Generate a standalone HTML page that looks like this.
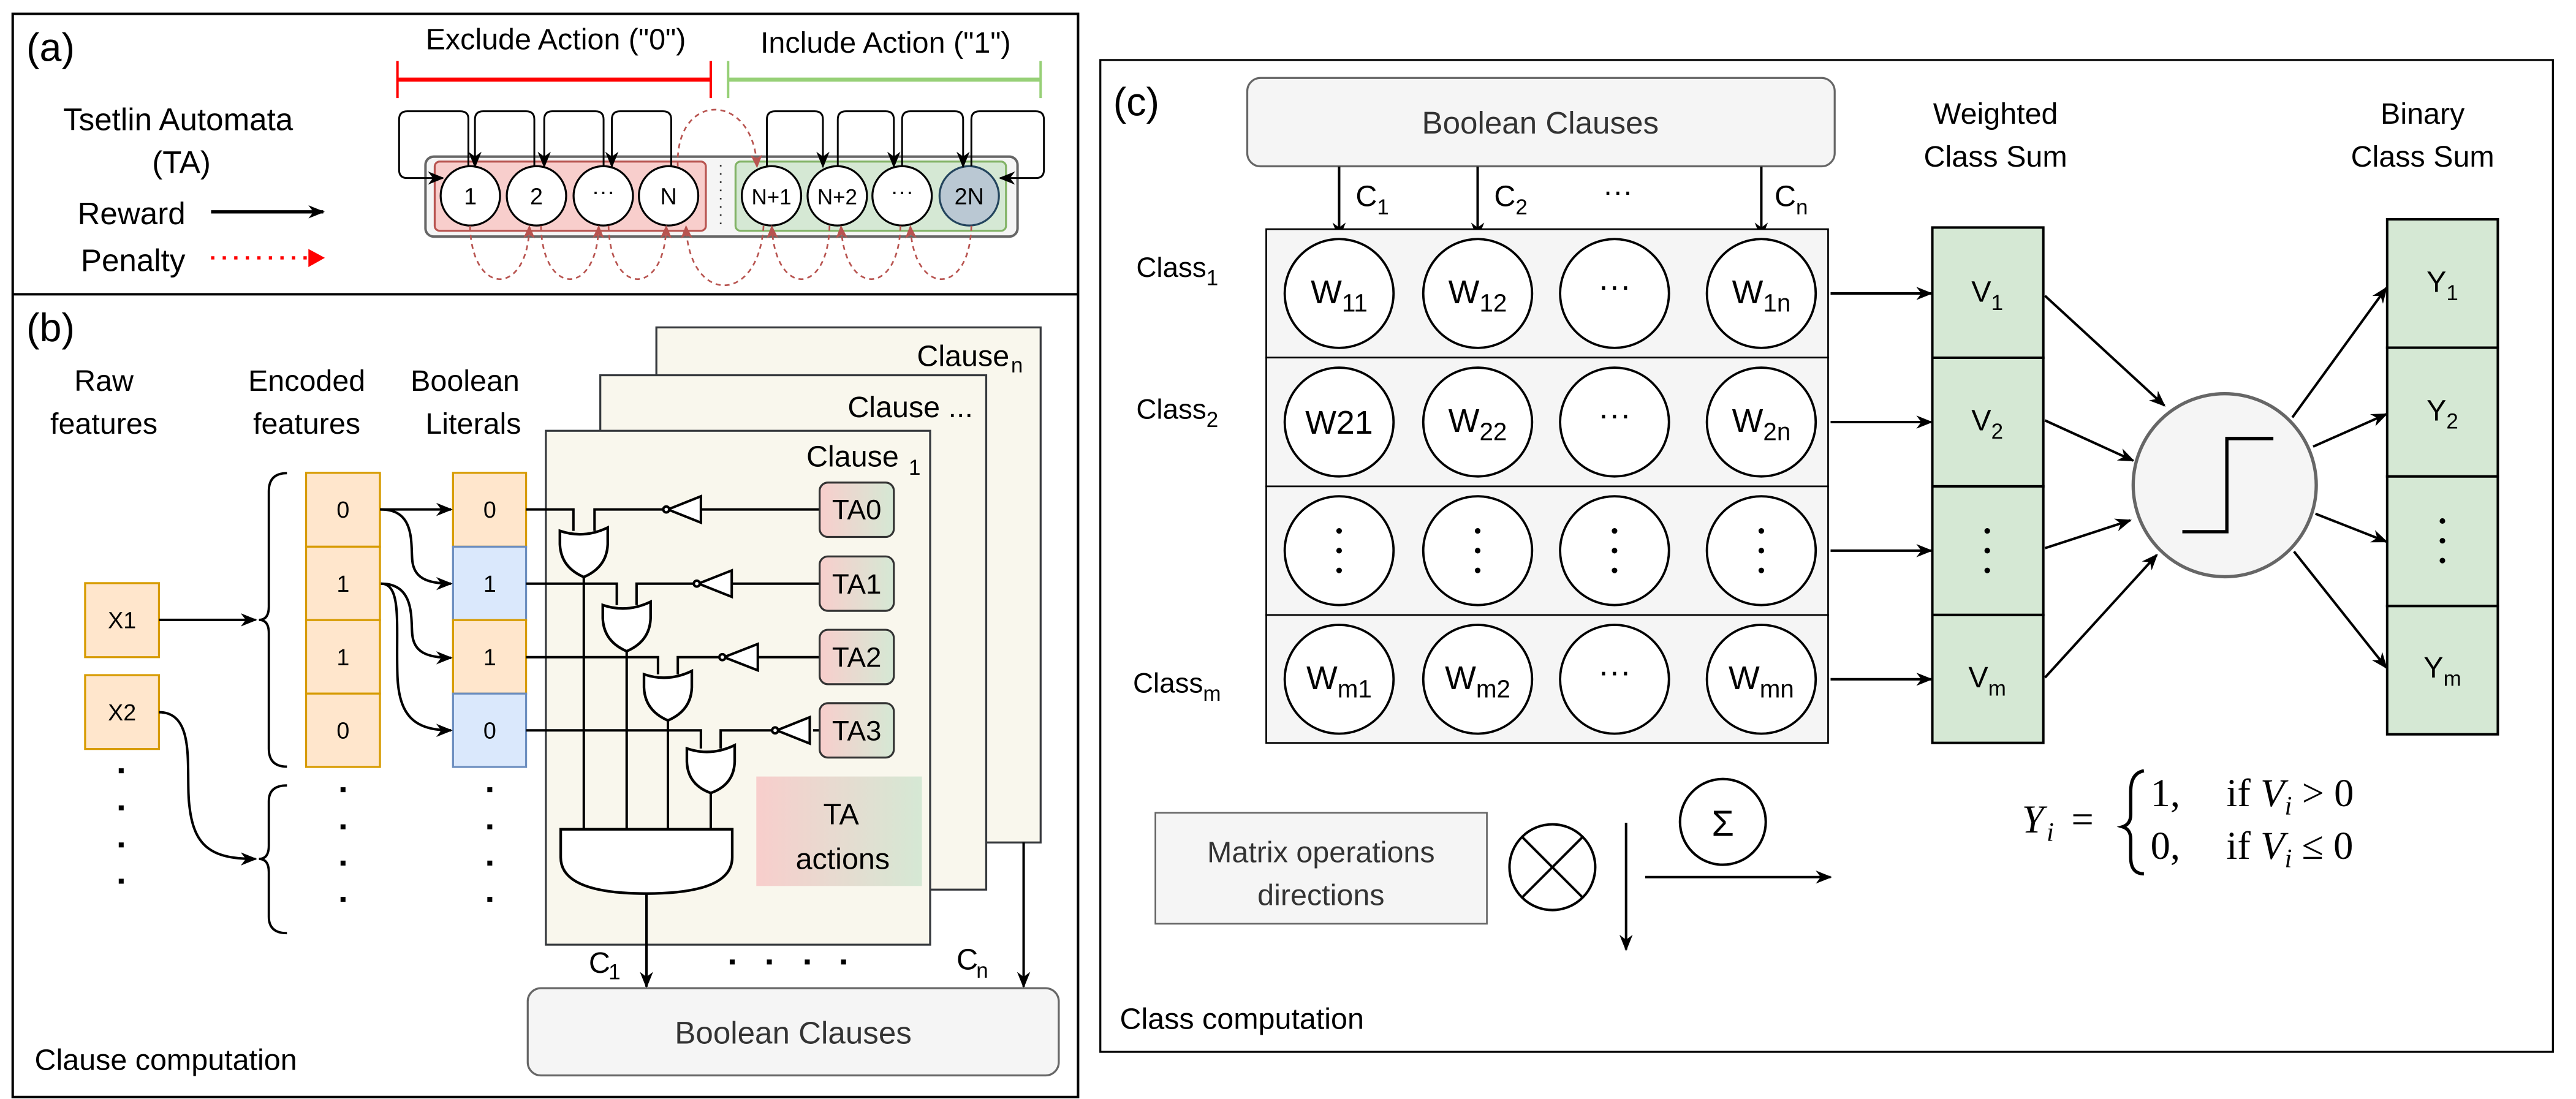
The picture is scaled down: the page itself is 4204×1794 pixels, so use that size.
<!DOCTYPE html>
<html><head><meta charset="utf-8"><style>
html,body{margin:0;padding:0;background:#fff;}
svg{display:block;}
text{font-family:"Liberation Sans",sans-serif;}
.serif text{font-family:"Liberation Serif",serif;}
</style></head><body>
<svg width="4204" height="1794" viewBox="0 0 1562 666.6" preserveAspectRatio="none" xmlns="http://www.w3.org/2000/svg">
<defs>
<marker id="ah" markerWidth="10" markerHeight="10" refX="9" refY="5" orient="auto" markerUnits="userSpaceOnUse"><path d="M0,1 L10,5 L0,9 L3,5 Z" fill="#000"/></marker>
<marker id="ahr" markerWidth="8" markerHeight="8" refX="7" refY="4" orient="auto" markerUnits="userSpaceOnUse"><path d="M0,0.5 L8,4 L0,7.5 L2,4 Z" fill="#b85450"/></marker>
<linearGradient id="ta" x1="0" y1="0" x2="1" y2="0"><stop offset="0" stop-color="#f8cecc"/><stop offset="1" stop-color="#d5e8d4"/></linearGradient>
</defs>
<rect width="1562" height="666.6" fill="#fff"/>

<rect x="7.7" y="8.4" width="646" height="657" fill="none" stroke="#000" stroke-width="1.5"/>
<line x1="7.7" y1="178.5" x2="653.7" y2="178.5" stroke="#000" stroke-width="1.5"/>
<rect x="667.2" y="36.4" width="880.8" height="601.6" fill="none" stroke="#000" stroke-width="1.2"/>

<!-- ===== Panel a ===== -->
<text x="16" y="37" font-size="24">(a)</text>
<text x="337" y="30" font-size="18" text-anchor="middle">Exclude Action ("0")</text>
<text x="537" y="32" font-size="18" text-anchor="middle">Include Action ("1")</text>
<g stroke="#ff0000" stroke-width="1.5"><line x1="241" y1="48.3" x2="431" y2="48.3" stroke-width="2.5"/><line x1="241" y1="37" x2="241" y2="59.5"/><line x1="431" y1="37" x2="431" y2="59.5"/></g>
<g stroke="#97d077" stroke-width="1.5"><line x1="441.5" y1="48.3" x2="631" y2="48.3" stroke-width="2.5"/><line x1="441.5" y1="37" x2="441.5" y2="59.5"/><line x1="631" y1="37" x2="631" y2="59.5"/></g>
<text x="108" y="79" font-size="19" text-anchor="middle">Tsetlin Automata</text>
<text x="110" y="105" font-size="19" text-anchor="middle">(TA)</text>
<text x="47" y="136" font-size="19">Reward</text>
<line x1="128" y1="128.5" x2="196" y2="128.5" stroke="#000" stroke-width="2" marker-end="url(#ah)"/>
<text x="49" y="164.5" font-size="19">Penalty</text>
<line x1="128" y1="156.4" x2="188" y2="156.4" stroke="#ff0000" stroke-width="2" stroke-dasharray="2 5"/>
<path d="M187,151 L197,156.4 L187,162 Z" fill="#ff0000"/>

<rect x="258" y="95" width="359" height="48.5" rx="5" fill="#f5f5f5" stroke="#666" stroke-width="1.5"/>
<rect x="263.6" y="98" width="164.4" height="42" rx="3" fill="#f8cecc" stroke="#b85450" stroke-width="1.2"/>
<rect x="446" y="98" width="164" height="42" rx="3" fill="#d5e8d4" stroke="#82b366" stroke-width="1.2"/>
<line x1="437" y1="100" x2="437" y2="140" stroke="#333" stroke-width="1" stroke-dasharray="1 4"/>
<g stroke="#000" stroke-width="1.2" fill="#fff">
<circle cx="285.2" cy="118.8" r="18"/><circle cx="325.3" cy="118.8" r="18"/><circle cx="365.8" cy="118.8" r="18"/><circle cx="405.4" cy="118.8" r="18"/>
<circle cx="467.8" cy="118.8" r="18"/><circle cx="507.7" cy="118.8" r="18"/><circle cx="547" cy="118.8" r="18"/>
</g>
<circle cx="587.7" cy="118.8" r="18" fill="#bac8d3" stroke="#23445d" stroke-width="1.2"/>
<g font-size="14" text-anchor="middle">
<text x="285.2" y="124">1</text><text x="325.3" y="124">2</text><text x="365.8" y="121">···</text><text x="405.4" y="124">N</text>
<text x="467.8" y="124" font-size="13">N+1</text><text x="507.7" y="124" font-size="13">N+2</text><text x="547" y="121">···</text><text x="587.7" y="124">2N</text>
</g>
<g fill="none" stroke="#000" stroke-width="1.1" marker-end="url(#ah)">
<path d="M284,100.8 V72 Q284,67.5 279,67.5 H247 Q242,67.5 242,72.5 V103 Q242,108 247,108 H268.5"/>
<path d="M324,100.8 V72.5 Q324,67.5 319,67.5 H293 Q288,67.5 288,72.5 V101"/>
<path d="M366,100.8 V72.5 Q366,67.5 361,67.5 H335 Q330,67.5 330,72.5 V101"/>
<path d="M407,100.8 V72.5 Q407,67.5 402,67.5 H376 Q371,67.5 371,72.5 V101"/>
<path d="M465,100.8 V72.5 Q465,67.5 470,67.5 H494 Q499,67.5 499,72.5 V101"/>
<path d="M508,100.8 V72.5 Q508,67.5 513,67.5 H537 Q542,67.5 542,72.5 V101"/>
<path d="M547,100.8 V72.5 Q547,67.5 552,67.5 H579 Q584,67.5 584,72.5 V101"/>
<path d="M589,100.8 V72.5 Q589,67.5 594,67.5 H628 Q633,67.5 633,72.5 V103 Q633,108 628,108 H606.5"/>
</g>
<g fill="none" stroke="#b85450" stroke-width="1" stroke-dasharray="3 2.5" marker-end="url(#ahr)">
<path d="M411,101 C409,55 457,55 459,101"/>
<path d="M285,137 C286,180 320,180 321,137.5"/>
<path d="M328,137 C329,180 362,180 363,137.5"/>
<path d="M369,137 C370,180 403,180 404,137.5"/>
<path d="M463,137 C460,185 418,185 416,137.5"/>
<path d="M503,137 C502,180 470,180 468,137.5"/>
<path d="M546,137 C545,180 512,180 510,137.5"/>
<path d="M589,137 C588,180 554,180 552,137.5"/>
</g>

<!-- ===== Panel b ===== -->
<text x="16" y="207" font-size="24">(b)</text>
<g font-size="18" text-anchor="middle">
<text x="63" y="237">Raw</text><text x="63" y="263">features</text>
<text x="186" y="237">Encoded</text><text x="186" y="263">features</text>
<text x="282" y="237">Boolean</text><text x="287" y="263">Literals</text>
</g>
<g stroke="#36393d" stroke-width="1.2" fill="#f9f7ed">
<rect x="398" y="198.6" width="233" height="312.4"/>
<rect x="364" y="227.6" width="234" height="312"/>
<rect x="331" y="261.3" width="233" height="311.7"/>
</g>
<text x="612" y="222" font-size="18" text-anchor="end">Clause</text><text x="613" y="226" font-size="13">n</text>
<text x="590" y="253" font-size="18" text-anchor="end">Clause ...</text>
<text x="545" y="283" font-size="18" text-anchor="end">Clause</text><text x="551" y="288" font-size="13">1</text>

<g stroke-width="1.2">
<rect x="185.6" y="286.8" width="44.8" height="44.8" fill="#ffe6cc" stroke="#d79b00"/>
<rect x="185.6" y="331.6" width="44.8" height="44.5" fill="#ffe6cc" stroke="#d79b00"/>
<rect x="185.6" y="376.1" width="44.8" height="44.6" fill="#ffe6cc" stroke="#d79b00"/>
<rect x="185.6" y="420.7" width="44.8" height="44.5" fill="#ffe6cc" stroke="#d79b00"/>
<rect x="274.7" y="286.8" width="44.3" height="44.8" fill="#ffe6cc" stroke="#d79b00"/>
<rect x="274.7" y="331.6" width="44.3" height="44.5" fill="#dae8fc" stroke="#6c8ebf"/>
<rect x="274.7" y="376.1" width="44.3" height="44.6" fill="#ffe6cc" stroke="#d79b00"/>
<rect x="274.7" y="420.7" width="44.3" height="44.5" fill="#dae8fc" stroke="#6c8ebf"/>
<rect x="51.6" y="353.7" width="44.8" height="44.9" fill="#ffe6cc" stroke="#d79b00"/>
<rect x="51.6" y="409.5" width="44.8" height="44.8" fill="#ffe6cc" stroke="#d79b00"/>
</g>
<g font-size="14" text-anchor="middle">
<text x="208" y="314">0</text><text x="208" y="359">1</text><text x="208" y="403.5">1</text><text x="208" y="448">0</text>
<text x="297" y="314">0</text><text x="297" y="359">1</text><text x="297" y="403.5">1</text><text x="297" y="448">0</text>
<text x="74" y="381">X1</text><text x="74" y="437">X2</text>
</g>
<g fill="#000">
<rect x="72" y="466" width="3" height="3"/><rect x="72" y="488.5" width="3" height="3"/><rect x="72" y="511" width="3" height="3"/><rect x="72" y="533" width="3" height="3"/>
<rect x="206.5" y="477.5" width="3" height="3"/><rect x="206.5" y="500" width="3" height="3"/><rect x="206.5" y="522" width="3" height="3"/><rect x="206.5" y="544" width="3" height="3"/>
<rect x="295.5" y="477.5" width="3" height="3"/><rect x="295.5" y="500" width="3" height="3"/><rect x="295.5" y="522" width="3" height="3"/><rect x="295.5" y="544" width="3" height="3"/>
</g>
<g fill="none" stroke="#000" stroke-width="1.4">
<path d="M174,287 Q163,287 163,298 V368 Q163,376 157,376 Q163,376 163,384 V454 Q163,465 174,465"/>
<path d="M174,476.4 Q163,476.4 163,486 V513 Q163,521 157,521 Q163,521 163,529 V556 Q163,566 174,566"/>
</g>
<g fill="none" stroke="#000" stroke-width="1.5" marker-end="url(#ah)">
<line x1="96.4" y1="376" x2="155" y2="376"/>
<path d="M96.4,432 C120,432 112,470 115,490 C118,515 130,521 155,521"/>
<line x1="230.4" y1="309" x2="273.5" y2="309"/>
<path d="M231,309 C252,309 249,330 250,340 C251,350 258,354 273.5,354"/>
<path d="M231,354 C252,354 249,376 250,385 C251,395 258,399 273.5,399"/>
<path d="M231,354 C244,354 240,380 241,410 C242,435 252,443 273.5,443"/>
</g>
<g fill="none" stroke="#000" stroke-width="1.5">
<path d="M319,309 H347.7 V322"/><path d="M403,309 H360.5 V322"/>
<path d="M319,354 H374 V367"/><path d="M421.5,354 H386 V367"/>
<path d="M319,398.6 H399 V409"/><path d="M437,398.6 H411 V409"/>
<path d="M319,443 H425 V454"/><path d="M469,443 H437 V454"/>
<line x1="425" y1="309" x2="497" y2="309"/><line x1="443.7" y1="354" x2="497" y2="354"/><line x1="459.5" y1="398.6" x2="497" y2="398.6"/><line x1="493" y1="443" x2="497" y2="443"/>
<line x1="354" y1="349" x2="354" y2="503"/><line x1="380" y1="394" x2="380" y2="503"/><line x1="405" y1="436" x2="405" y2="503"/><line x1="431" y1="480" x2="431" y2="503"/>
</g>
<g fill="#fff" stroke="#000" stroke-width="1.5">
<path d="M405,309 L425,301 L425,317 Z"/><circle cx="404" cy="309" r="1.8"/>
<path d="M423.5,354 L443.7,346 L443.7,362 Z"/><circle cx="422.5" cy="354" r="1.8"/>
<path d="M439,398.6 L459.5,390.6 L459.5,406.6 Z"/><circle cx="438" cy="398.6" r="1.8"/>
<path d="M471,443 L491,435 L491,451 Z"/><circle cx="470" cy="443" r="1.8"/>
</g>
<g fill="#fff" stroke="#000" stroke-width="1.6">
<path d="M339.5,322 Q354,327 368.5,320 V330 Q368,344 354,350 Q340,344 339.5,330 Z"/>
<path d="M365.5,367 Q380,372 394.5,365 V375 Q394,389 380,395 Q366,389 365.5,375 Z"/>
<path d="M390.5,409 Q405,414 419.5,407 V417 Q419,431 405,437 Q391,431 390.5,417 Z"/>
<path d="M416.5,454 Q431,459 445.5,452 V462 Q445,476 431,481 Q417,476 416.5,462 Z"/>
<path d="M340,503 H444 V520 Q444,542 392,542 Q340,542 340,520 Z"/>
</g>
<g stroke="#333" stroke-width="1.2" fill="url(#ta)">
<rect x="497" y="292.7" width="45" height="33" rx="5"/>
<rect x="497" y="337.5" width="45" height="33" rx="5"/>
<rect x="497" y="382" width="45" height="33" rx="5"/>
<rect x="497" y="426.5" width="45" height="33" rx="5"/>
</g>
<g font-size="17" text-anchor="middle">
<text x="519.5" y="315">TA0</text><text x="519.5" y="360">TA1</text><text x="519.5" y="404.5">TA2</text><text x="519.5" y="449">TA3</text>
</g>
<rect x="458.6" y="471" width="100.4" height="66.4" fill="url(#ta)"/>
<text x="510" y="500" font-size="18" text-anchor="middle">TA</text>
<text x="511" y="527" font-size="18" text-anchor="middle">actions</text>
<g stroke="#000" stroke-width="1.5" marker-end="url(#ah)">
<line x1="392" y1="542" x2="392" y2="598.5"/>
<line x1="620.7" y1="511" x2="620.7" y2="598.5"/>
</g>
<text x="357" y="590" font-size="18">C</text><text x="369" y="594" font-size="13">1</text>
<text x="580" y="588" font-size="18">C</text><text x="592" y="593" font-size="13">n</text>
<g fill="#000"><rect x="442.5" y="582" width="3" height="3"/><rect x="465" y="582" width="3" height="3"/><rect x="488" y="582" width="3" height="3"/><rect x="510" y="582" width="3" height="3"/></g>
<rect x="320" y="599.4" width="322" height="52.9" rx="8" fill="#f5f5f5" stroke="#666" stroke-width="1.2"/>
<text x="481" y="633" font-size="19" text-anchor="middle" fill="#333">Boolean  Clauses</text>
<text x="21" y="649" font-size="18">Clause computation</text>

<!-- ===== Panel c ===== -->
<text x="675" y="70" font-size="24">(c)</text>
<rect x="756.3" y="47.3" width="356.2" height="53.6" rx="8" fill="#f5f5f5" stroke="#666" stroke-width="1.2"/>
<text x="934" y="81" font-size="19" text-anchor="middle" fill="#333">Boolean  Clauses</text>
<g stroke="#000" stroke-width="1.5" marker-end="url(#ah)">
<line x1="812" y1="101" x2="812" y2="144"/><line x1="896" y1="101" x2="896" y2="144"/><line x1="1068" y1="101" x2="1068" y2="144"/>
</g>
<g font-size="18">
<text x="822" y="125">C</text><text x="835" y="130" font-size="13">1</text>
<text x="906" y="125">C</text><text x="919" y="130" font-size="13">2</text>
<text x="972" y="122">···</text>
<text x="1076" y="125">C</text><text x="1089" y="130" font-size="13">n</text>
</g>
<g fill="#f5f5f5" stroke="#000" stroke-width="1">
<rect x="767.8" y="139" width="340.7" height="77.9"/><rect x="767.8" y="216.9" width="340.7" height="78.1"/>
<rect x="767.8" y="295" width="340.7" height="78"/><rect x="767.8" y="373" width="340.7" height="77.6"/>
</g>
<g fill="#fff" stroke="#000" stroke-width="1.4">
<circle cx="812" cy="178" r="33"/><circle cx="896" cy="178" r="33"/><circle cx="979" cy="178" r="33"/><circle cx="1068" cy="178" r="33"/>
<circle cx="812" cy="256" r="33"/><circle cx="896" cy="256" r="33"/><circle cx="979" cy="256" r="33"/><circle cx="1068" cy="256" r="33"/>
<circle cx="812" cy="334" r="33"/><circle cx="896" cy="334" r="33"/><circle cx="979" cy="334" r="33"/><circle cx="1068" cy="334" r="33"/>
<circle cx="812" cy="412" r="33"/><circle cx="896" cy="412" r="33"/><circle cx="979" cy="412" r="33"/><circle cx="1068" cy="412" r="33"/>
</g>
<g font-size="20" text-anchor="middle">
<text x="812" y="184">W<tspan font-size="15" dy="5">11</tspan></text>
<text x="896" y="184">W<tspan font-size="15" dy="5">12</tspan></text>
<text x="979" y="180">···</text>
<text x="1068" y="184">W<tspan font-size="15" dy="5">1n</tspan></text>
<text x="812" y="263">W21</text>
<text x="896" y="262">W<tspan font-size="15" dy="5">22</tspan></text>
<text x="979" y="258">···</text>
<text x="1068" y="262">W<tspan font-size="15" dy="5">2n</tspan></text>
<text x="979" y="414">···</text>
<text x="812" y="418">W<tspan font-size="15" dy="5">m1</tspan></text>
<text x="896" y="418">W<tspan font-size="15" dy="5">m2</tspan></text>
<text x="1068" y="418">W<tspan font-size="15" dy="5">mn</tspan></text>
</g>
<g font-size="17">
<text x="689" y="168">Class<tspan font-size="13" dy="5">1</tspan></text>
<text x="689" y="254">Class<tspan font-size="13" dy="5">2</tspan></text>
<text x="687" y="420">Class<tspan font-size="13" dy="5">m</tspan></text>
</g>
<g stroke="#000" stroke-width="1.5" marker-end="url(#ah)">
<line x1="1110" y1="178" x2="1171" y2="178"/><line x1="1110" y1="256" x2="1171" y2="256"/>
<line x1="1110" y1="334" x2="1171" y2="334"/><line x1="1110" y1="412" x2="1171" y2="412"/>
</g>
<g fill="#d5e8d4" stroke="#000" stroke-width="1.5">
<rect x="1171.7" y="138" width="67.3" height="79"/><rect x="1171.7" y="217" width="67.3" height="78"/>
<rect x="1171.7" y="295" width="67.3" height="78"/><rect x="1171.7" y="373" width="67.3" height="77.6"/>
<rect x="1447.5" y="133" width="67.1" height="77.9"/><rect x="1447.5" y="210.9" width="67.1" height="78.1"/>
<rect x="1447.5" y="289" width="67.1" height="78.6"/><rect x="1447.5" y="367.6" width="67.1" height="77.8"/>
</g>
<g fill="#000">
<circle cx="812" cy="322" r="1.7"/><circle cx="812" cy="334" r="1.7"/><circle cx="812" cy="346" r="1.7"/>
<circle cx="896" cy="322" r="1.7"/><circle cx="896" cy="334" r="1.7"/><circle cx="896" cy="346" r="1.7"/>
<circle cx="979" cy="322" r="1.7"/><circle cx="979" cy="334" r="1.7"/><circle cx="979" cy="346" r="1.7"/>
<circle cx="1068" cy="322" r="1.7"/><circle cx="1068" cy="334" r="1.7"/><circle cx="1068" cy="346" r="1.7"/>
<circle cx="1205" cy="322" r="1.7"/><circle cx="1205" cy="334" r="1.7"/><circle cx="1205" cy="346" r="1.7"/>
<circle cx="1481" cy="316" r="1.7"/><circle cx="1481" cy="328" r="1.7"/><circle cx="1481" cy="340" r="1.7"/>
</g>
<g font-size="18" text-anchor="middle">
<text x="1210" y="75">Weighted</text><text x="1210" y="101">Class Sum</text>
<text x="1469" y="75">Binary</text><text x="1469" y="101">Class Sum</text>
<text x="1205" y="183">V<tspan font-size="13" dy="5">1</tspan></text>
<text x="1205" y="261">V<tspan font-size="13" dy="5">2</tspan></text>
<text x="1205" y="417">V<tspan font-size="13" dy="5">m</tspan></text>
<text x="1481" y="177">Y<tspan font-size="13" dy="5">1</tspan></text>
<text x="1481" y="255">Y<tspan font-size="13" dy="5">2</tspan></text>
<text x="1481" y="411">Y<tspan font-size="13" dy="5">m</tspan></text>
</g>
<circle cx="1349" cy="294.3" r="55.5" fill="#f5f5f5" stroke="#666" stroke-width="2"/>
<path d="M1323.3,322.5 H1350.3 V266 H1378.5" fill="none" stroke="#000" stroke-width="2"/>
<g stroke="#000" stroke-width="1.5" marker-end="url(#ah)">
<line x1="1240" y1="179.4" x2="1312.4" y2="246"/>
<line x1="1240" y1="255" x2="1293.5" y2="279.4"/>
<line x1="1240" y1="332.5" x2="1291.7" y2="315.6"/>
<line x1="1240" y1="411" x2="1307.8" y2="336.6"/>
<line x1="1390" y1="253.2" x2="1447" y2="174.6"/>
<line x1="1402.6" y1="270.9" x2="1447" y2="251.2"/>
<line x1="1404" y1="311.6" x2="1447" y2="328.5"/>
<line x1="1391" y1="334.5" x2="1447" y2="405"/>
</g>
<g class="serif" font-size="24">
<text x="1226" y="505" font-style="italic" style="font-family:'Liberation Serif',serif">Y</text><text x="1241" y="510" font-size="16" font-style="italic" style="font-family:'Liberation Serif',serif">i</text>
<text x="1256" y="505" style="font-family:'Liberation Serif',serif">=</text>
<text x="1304" y="489" style="font-family:'Liberation Serif',serif">1,</text><text x="1304" y="521" style="font-family:'Liberation Serif',serif">0,</text>
<text x="1350" y="489" style="font-family:'Liberation Serif',serif">if <tspan font-style="italic">V</tspan><tspan font-size="16" font-style="italic" dy="5">i</tspan><tspan dy="-5"> &gt; 0</tspan></text>
<text x="1350" y="521" style="font-family:'Liberation Serif',serif">if <tspan font-style="italic">V</tspan><tspan font-size="16" font-style="italic" dy="5">i</tspan><tspan dy="-5"> ≤ 0</tspan></text>
</g>
<path d="M1300,467.5 Q1292,469 1292,480 V494 Q1292,500 1287,501.5 Q1292,503 1292,509 V520 Q1292,530 1300,530" fill="none" stroke="#000" stroke-width="2"/>
<rect x="700.6" y="493" width="201" height="67.3" fill="#f5f5f5" stroke="#666" stroke-width="1"/>
<text x="801" y="523" font-size="18" text-anchor="middle" fill="#333">Matrix operations</text>
<text x="801" y="549" font-size="18" text-anchor="middle" fill="#333">directions</text>
<circle cx="941.3" cy="526" r="26" fill="#fff" stroke="#000" stroke-width="1.5"/>
<path d="M922.9,507.6 L959.7,544.4 M959.7,507.6 L922.9,544.4" stroke="#000" stroke-width="1.5"/>
<line x1="986" y1="499" x2="986" y2="576" stroke="#000" stroke-width="1.5" marker-end="url(#ah)"/>
<circle cx="1044.7" cy="498.5" r="26" fill="#fff" stroke="#000" stroke-width="1.5"/>
<text x="1044.7" y="507" font-size="22" text-anchor="middle">Σ</text>
<line x1="997.6" y1="532" x2="1110" y2="532" stroke="#000" stroke-width="1.5" marker-end="url(#ah)"/>
<text x="679" y="624" font-size="18">Class computation</text>
</svg>
</body></html>
